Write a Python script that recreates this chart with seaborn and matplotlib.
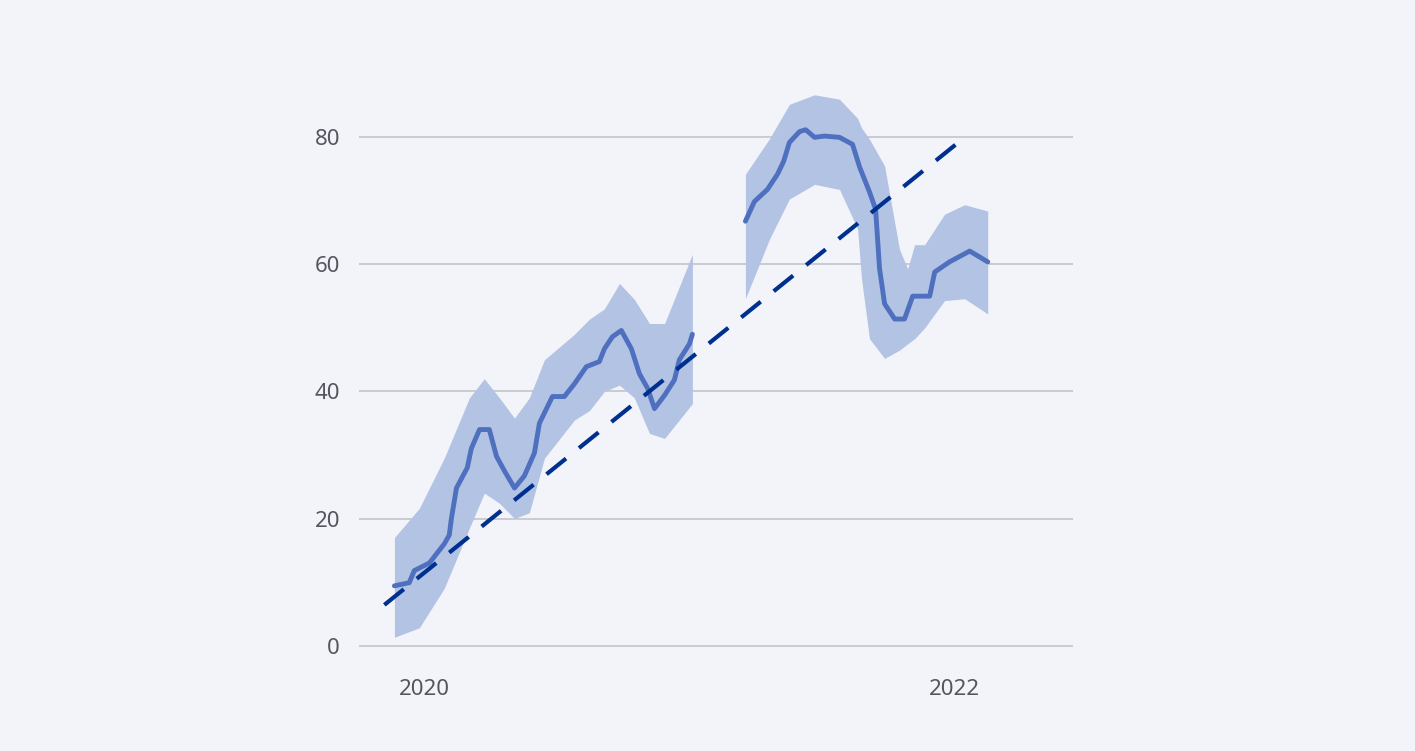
import numpy as np
import pandas as pd
import matplotlib
matplotlib.use("Agg")
import matplotlib.pyplot as plt
import seaborn as sns

# main series (decimal year, value), two segments with a gap
seg1_year = [2019.887, 2019.943, 2019.962, 2020.019, 2020.075, 2020.094, 2020.102, 2020.121,
             2020.162, 2020.177, 2020.208, 2020.245, 2020.272, 2020.302, 2020.340, 2020.377,
             2020.415, 2020.434, 2020.483, 2020.528, 2020.566, 2020.611, 2020.660, 2020.679,
             2020.709, 2020.743, 2020.781, 2020.811, 2020.842, 2020.868, 2020.906, 2020.943,
             2020.962, 2021.000, 2021.011]
seg1_val = [9.4, 9.9, 11.8, 13.0, 16.0, 17.4, 20.0, 24.8, 28.0, 31.0, 34.0, 34.0, 29.8, 27.5,
            24.8, 26.7, 30.3, 35.0, 39.2, 39.2, 41.2, 43.9, 44.7, 46.7, 48.6, 49.6, 46.7, 42.8,
            40.5, 37.3, 39.4, 41.8, 45.0, 47.5, 49.0]
seg2_year = [2021.211, 2021.245, 2021.294, 2021.332, 2021.355, 2021.377, 2021.415, 2021.438,
             2021.472, 2021.509, 2021.566, 2021.615, 2021.642, 2021.679, 2021.702, 2021.717,
             2021.736, 2021.774, 2021.811, 2021.842, 2021.906, 2021.925, 2021.981, 2022.057,
             2022.125]
seg2_val = [66.8, 69.9, 71.8, 74.2, 76.2, 79.2, 80.9, 81.2, 80.0, 80.2, 80.0, 78.9, 75.3, 71.4,
            68.7, 59.3, 53.8, 51.4, 51.4, 55.0, 55.0, 58.8, 60.4, 62.1, 60.4]

# confidence band
band1_year = [2019.887, 2019.981, 2020.075, 2020.170, 2020.226, 2020.283, 2020.340, 2020.396,
              2020.453, 2020.566, 2020.623, 2020.679, 2020.736, 2020.792, 2020.849, 2020.906,
              2021.011]
band1_hi = [17, 21.6, 29.5, 39, 42, 39, 35.8, 39, 45, 49, 51.4, 53, 57, 54.5, 50.7, 50.7, 61.6]
band1_lo = [1.3, 2.8, 9, 18.5, 24, 22.4, 20, 20.9, 29.5, 35.5, 37, 40, 41, 39, 33.4, 32.6, 38.1]
band2_year = [2021.211, 2021.302, 2021.377, 2021.472, 2021.566, 2021.634, 2021.649, 2021.679,
              2021.736, 2021.792, 2021.823, 2021.849, 2021.887, 2021.962, 2022.038, 2022.125]
band2_hi = [74.2, 79.8, 85.2, 86.7, 86, 83, 81.5, 79.7, 75.5, 62.4, 59.3, 63.1, 63.1, 67.9, 69.4, 68.4]
band2_lo = [54.6, 64, 70.3, 72.6, 71.8, 65.6, 57.7, 48.3, 45.2, 46.5, 47.5, 48.3, 50, 54.3, 54.6, 52.2]

# trend line
trend_year = [2019.849, 2022.038]
trend_val = [6.4, 80.0]


def to_date(years):
    years = np.asarray(years)
    return pd.Timestamp("2020-01-01") + pd.to_timedelta((years - 2020) * 365.25, unit="D")


df = pd.concat([
    pd.DataFrame({"date": to_date(seg1_year), "value": seg1_val, "seg": 1}),
    pd.DataFrame({"date": to_date(seg2_year), "value": seg2_val, "seg": 2}),
])

sns.set_theme(style="white")
plt.rcParams["font.family"] = ["Noto Sans", "DejaVu Sans"]
bg = "#f3f4f9"
fig = plt.figure(figsize=(14.15, 7.51), dpi=100, facecolor=bg)
ax = fig.add_axes([0.254, 0.137, 0.504, 0.807], facecolor=bg)

for yrs, lo, hi in [(band1_year, band1_lo, band1_hi), (band2_year, band2_lo, band2_hi)]:
    ax.fill_between(to_date(yrs), lo, hi, color="#b3c3e4", linewidth=0, zorder=1)

sns.lineplot(data=df, x="date", y="value", units="seg", estimator=None,
             color="#4f6fbf", linewidth=3.5, ax=ax, zorder=3)
ax.plot(to_date(trend_year), trend_val, color="#00308f", linewidth=3,
        dashes=(6, 4), zorder=4)

ax.set_ylim(-0.4, 95)
ax.set_xlim(to_date([2019.755])[0], to_date([2022.445])[0])
ax.set_yticks([0, 20, 40, 60, 80])
ax.set_xticks(to_date([2020, 2022]))
ax.set_xticklabels(["2020", "2022"])
ax.yaxis.grid(True, color="#c4c4c8", linewidth=1.2)
ax.set_axisbelow(True)
for s in ax.spines.values():
    s.set_visible(False)
ax.tick_params(axis="both", length=0, labelsize=16, colors="#555560")
ax.tick_params(axis="x", pad=22)
ax.tick_params(axis="y", pad=14)
ax.set_xlabel("")
ax.set_ylabel("")
if ax.get_legend():
    ax.get_legend().remove()

fig.savefig("out.png", dpi=100, facecolor=bg)
